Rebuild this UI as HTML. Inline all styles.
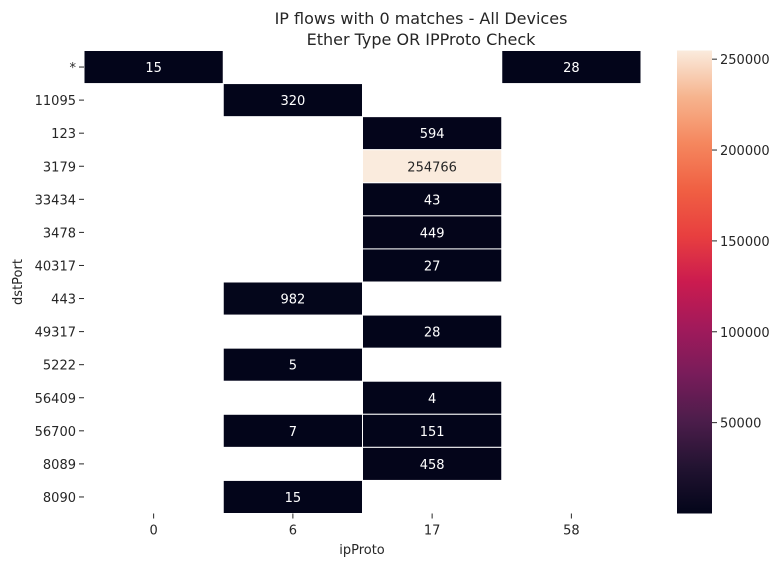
<!DOCTYPE html>
<html><head><meta charset="utf-8">
<style>
html,body{margin:0;padding:0;background:#fff;}
svg text{font-family:"DejaVu Sans","Liberation Sans",sans-serif;fill:#262626;}
</style></head>
<body>
<svg id="chart" width="771" height="567" viewBox="0 0 771 567" xmlns="http://www.w3.org/2000/svg">
<defs>
<linearGradient id="rocket" x1="0" y1="1" x2="0" y2="0">
<stop offset="0" stop-color="#03051a"/>
<stop offset="0.1" stop-color="#221331"/>
<stop offset="0.2" stop-color="#4c1d4b"/>
<stop offset="0.3" stop-color="#781c5a"/>
<stop offset="0.4" stop-color="#a11a5b"/>
<stop offset="0.5" stop-color="#cb1b4f"/>
<stop offset="0.6" stop-color="#e83f3f"/>
<stop offset="0.7" stop-color="#f06043"/>
<stop offset="0.8" stop-color="#f5875e"/>
<stop offset="0.9" stop-color="#f6b48e"/>
<stop offset="1" stop-color="#faebdd"/>
</linearGradient>
</defs>
<text x="421" y="24" font-size="16" text-anchor="middle">IP flows with 0 matches - All Devices</text>
<text x="421" y="45" font-size="16" text-anchor="middle">Ether Type OR IPProto Check</text>
<g id="cells"></g>
<g id="yaxis"></g>
<g id="xaxis"></g>
<text x="22" y="282" font-size="13" text-anchor="middle" transform="rotate(-90 22 282)">dstPort</text>
<text x="362" y="554" font-size="13" text-anchor="middle">ipProto</text>
<rect x="677" y="50.5" width="35" height="463" fill="url(#rocket)"/>
<g id="cbaxis"></g>
</svg>
<script>
const rowLabels = ["*","11095","123","3179","33434","3478","40317","443","49317","5222","56409","56700","8089","8090"];
const colLabels = ["0","6","17","58"];
const col0 = [15,null,null,null,null,null,null,null,null,null,null,null,null,null];
const col6 = [null,320,null,null,null,null,null,982,null,5,null,7,null,15];
const col17 = [null,null,594,254766,43,449,27,null,28,null,4,151,458,null];
const col58 = [28,null,null,null,null,null,null,null,null,null,null,null,null,null];
const cbTicks = [50000,100000,150000,200000,250000];
const vmin = 4, vmax = 254766;

const NS = "http://www.w3.org/2000/svg";
const X0 = 84, X1 = 641, Y0 = 50.5, Y1 = 513.5;
const cw = (X1 - X0) / colLabels.length, rh = (Y1 - Y0) / rowLabels.length;
const xPos = i => X0 + i * cw;
const yPos = j => Y0 + j * rh;
const cbY = v => Y1 - (v - vmin) / (vmax - vmin) * (Y1 - Y0);

const stops = [[0,[3,5,26]],[0.1,[34,19,49]],[0.2,[76,29,75]],[0.3,[120,28,90]],[0.4,[161,26,91]],[0.5,[203,27,79]],[0.6,[232,63,63]],[0.7,[240,96,67]],[0.8,[245,135,94]],[0.9,[246,180,142]],[1,[250,235,221]]];
function color(v){
  const t = Math.max(0, Math.min(1, (v - vmin) / (vmax - vmin)));
  for (let k = 1; k < stops.length; k++) {
    if (t <= stops[k][0]) {
      const a = stops[k-1], b = stops[k], f = (t - a[0]) / (b[0] - a[0]);
      const c = a[1].map((x, i) => Math.round(x + (b[1][i] - x) * f));
      return {fill: `rgb(${c.join(',')})`, light: t > 0.6};
    }
  }
  return {fill: "#faebdd", light: true};
}
function mk(tag, attrs, parent){ const e = document.createElementNS(NS, tag); for (const k in attrs) e.setAttribute(k, attrs[k]); parent.appendChild(e); return e; }

const cols = [col0, col6, col17, col58];
const gC = document.getElementById("cells");
cols.forEach((col, i) => {
  col.forEach((v, j) => {
    if (v === null) return;
    const c = color(v);
    const r = mk("rect", {x: xPos(i), y: yPos(j), width: cw, height: rh, fill: c.fill, stroke: "#fff", "stroke-width": 1}, gC);
    
    
    const t = mk("text", {x: xPos(i) + cw / 2, y: yPos(j) + rh / 2 + 5, "font-size": 13, "text-anchor": "middle"}, gC);
    
    
    t.style.fill = c.light ? "#262626" : "#ffffff";
    t.textContent = v;
  });
});

const gY = document.getElementById("yaxis");
rowLabels.forEach((lab, j) => {
  const y = yPos(j) + rh / 2;
  const tk = mk("line", {x1: X0 - 5, x2: X0, y1: y, y2: y, stroke: "#262626", "stroke-width": 1}, gY);
  
  
  const t = mk("text", {x: X0 - 8, y: y + 5, "font-size": 13, "text-anchor": "end"}, gY);
  
  
  t.textContent = lab;
});
const gX = document.getElementById("xaxis");
colLabels.forEach((lab, i) => {
  const x = xPos(i) + cw / 2;
  const tk = mk("line", {x1: x, x2: x, y1: Y1, y2: Y1 + 5, stroke: "#262626", "stroke-width": 1}, gX);
  
  
  const t = mk("text", {x: x, y: Y1 + 21, "font-size": 13, "text-anchor": "middle"}, gX);
  
  
  t.textContent = lab;
});
const gB = document.getElementById("cbaxis");
cbTicks.forEach(v => {
  const y = cbY(v);
  const tk = mk("line", {x1: 712, x2: 717, y1: y, y2: y, stroke: "#262626", "stroke-width": 1}, gB);
  
  
  const t = mk("text", {x: 720, y: y + 5, "font-size": 13}, gB);
  
  
  t.textContent = v;
});
</script>
</body></html>
